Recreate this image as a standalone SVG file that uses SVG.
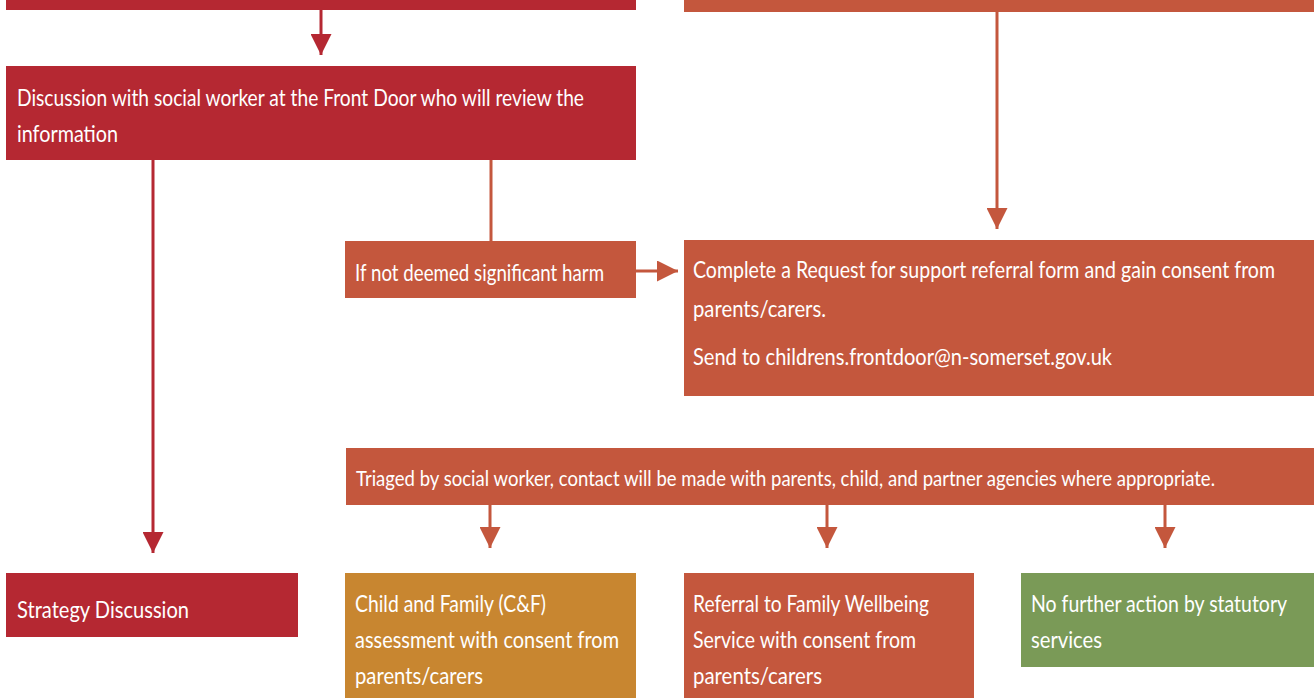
<svg xmlns="http://www.w3.org/2000/svg" width="1314" height="698" viewBox="0 0 1314 698">
<style>
.red{fill:#B52832}
.org{fill:#C4573D}
.amb{fill:#C88630}
.grn{fill:#7A9A57}
text{font-family:Lato,"Open Sans","Liberation Sans",sans-serif;font-size:24px;fill:#ffffff}
.sm{font-size:22px}
.lr{stroke:#B52832;stroke-width:3;fill:none}
.lo{stroke:#C4573D;stroke-width:3;fill:none}
</style>
<defs>
<marker id="ar" viewBox="0 0 10 10" refX="10" refY="5" markerWidth="7" markerHeight="7" markerUnits="strokeWidth" orient="auto"><path d="M0,0 L10,5 L0,10 Z" fill="#B52832"/></marker>
<marker id="ao" viewBox="0 0 10 10" refX="10" refY="5" markerWidth="7" markerHeight="7" markerUnits="strokeWidth" orient="auto"><path d="M0,0 L10,5 L0,10 Z" fill="#C4573D"/></marker>
</defs>
<rect width="1314" height="698" fill="#ffffff"/>
<g id="connectors">
<line class="lr" x1="321" y1="10" x2="321" y2="55" marker-end="url(#ar)"/>
<line class="lr" x1="153" y1="160" x2="153" y2="553" marker-end="url(#ar)"/>
<line class="lo" x1="491" y1="155" x2="491" y2="241"/>
<line class="lo" x1="636" y1="271" x2="678" y2="271" marker-end="url(#ao)"/>
<line class="lo" x1="997" y1="12" x2="997" y2="229" marker-end="url(#ao)"/>
<line class="lo" x1="490" y1="505" x2="490" y2="548" marker-end="url(#ao)"/>
<line class="lo" x1="827" y1="505" x2="827" y2="548" marker-end="url(#ao)"/>
<line class="lo" x1="1165" y1="505" x2="1165" y2="548" marker-end="url(#ao)"/>
</g>
<g id="top-left"><rect class="red" x="6" y="-10" width="630" height="20"/></g>
<g id="top-right"><rect class="org" x="684" y="-10" width="630" height="22"/></g>
<g id="discussion">
<rect class="red" x="6" y="66" width="630" height="94"/>
<text transform="translate(17,106) scale(0.82,1)" textLength="691.5" lengthAdjust="spacingAndGlyphs">Discussion with social worker at the Front Door who will review the</text>
<text transform="translate(17,142) scale(0.82,1)" textLength="123.2" lengthAdjust="spacingAndGlyphs">information</text>
</g>
<g id="not-significant">
<rect class="org" x="345" y="241" width="291" height="57"/>
<text transform="translate(355,281) scale(0.82,1)" textLength="303.7" lengthAdjust="spacingAndGlyphs">If not deemed significant harm</text>
</g>
<g id="request">
<rect class="org" x="684" y="240" width="630" height="156"/>
<text transform="translate(693,278) scale(0.82,1)" textLength="709.8" lengthAdjust="spacingAndGlyphs">Complete a Request for support referral form and gain consent from</text>
<text transform="translate(693,317) scale(0.82,1)" textLength="162.2" lengthAdjust="spacingAndGlyphs">parents/carers.</text>
<text transform="translate(693,365) scale(0.82,1)" textLength="511" lengthAdjust="spacingAndGlyphs">Send to childrens.frontdoor@n-somerset.gov.uk</text>
</g>
<g id="triaged">
<rect class="org" x="346" y="448" width="968" height="57"/>
<text class="sm" transform="translate(356,486) scale(0.82,1)" textLength="1047.6" lengthAdjust="spacingAndGlyphs">Triaged by social worker, contact will be made with parents, child, and partner agencies where appropriate.</text>
</g>
<g id="strategy">
<rect class="red" x="6" y="573" width="292" height="64"/>
<text transform="translate(17,618) scale(0.82,1)" textLength="209.8" lengthAdjust="spacingAndGlyphs">Strategy Discussion</text>
</g>
<g id="cf-assessment">
<rect class="amb" x="345" y="573" width="291" height="135"/>
<text transform="translate(355,612) scale(0.82,1)" textLength="232.9" lengthAdjust="spacingAndGlyphs">Child and Family (C&amp;F)</text>
<text transform="translate(355,648) scale(0.82,1)" textLength="322" lengthAdjust="spacingAndGlyphs">assessment with consent from</text>
<text transform="translate(355,684) scale(0.82,1)" textLength="156.1" lengthAdjust="spacingAndGlyphs">parents/carers</text>
</g>
<g id="wellbeing">
<rect class="org" x="684" y="573" width="290" height="135"/>
<text transform="translate(693,612) scale(0.82,1)" textLength="287.8" lengthAdjust="spacingAndGlyphs">Referral to Family Wellbeing</text>
<text transform="translate(693,648) scale(0.82,1)" textLength="272" lengthAdjust="spacingAndGlyphs">Service with consent from</text>
<text transform="translate(693,684) scale(0.82,1)" textLength="157.3" lengthAdjust="spacingAndGlyphs">parents/carers</text>
</g>
<g id="no-further">
<rect class="grn" x="1021" y="573" width="293" height="94"/>
<text transform="translate(1031,612) scale(0.82,1)" textLength="312.2" lengthAdjust="spacingAndGlyphs">No further action by statutory</text>
<text transform="translate(1031,648) scale(0.82,1)" textLength="86.6" lengthAdjust="spacingAndGlyphs">services</text>
</g>
</svg>
